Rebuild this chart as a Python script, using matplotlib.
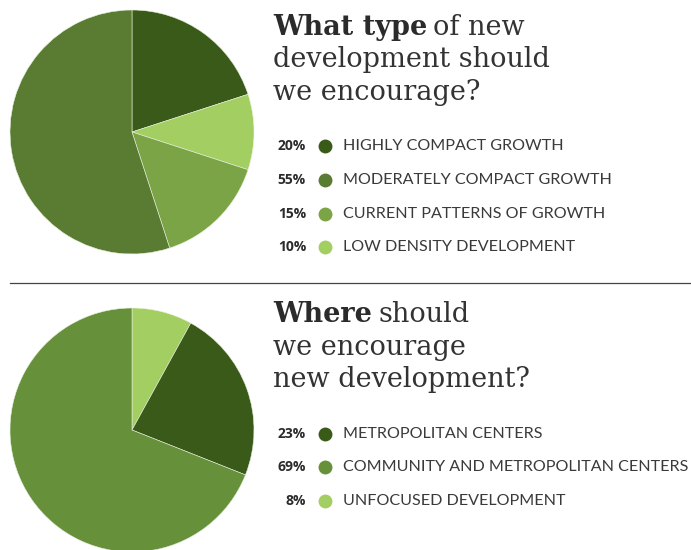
"""Two survey pies: type and location of new development."""
import matplotlib
matplotlib.use("Agg")
import matplotlib.pyplot as plt
from matplotlib.lines import Line2D

W, H = 691, 550

# ---- data ----
type_labels = ["HIGHLY COMPACT GROWTH", "MODERATELY COMPACT GROWTH",
               "CURRENT PATTERNS OF GROWTH", "LOW DENSITY DEVELOPMENT"]
type_values = [20, 55, 15, 10]
type_colors = ["#3a5a1a", "#5a7b32", "#7ba446", "#a2ce62"]
type_pie_order = [0, 3, 2, 1]  # clockwise from 12 o'clock

where_labels = ["METROPOLITAN CENTERS", "COMMUNITY AND METROPOLITAN CENTERS",
                "UNFOCUSED DEVELOPMENT"]
where_values = [23, 69, 8]
where_colors = ["#3a5a1a", "#67903a", "#a2ce62"]
where_pie_order = [2, 0, 1]

TITLE_FONT = "DejaVu Serif"
LABEL_FONT = "Lato"
PCT_FONT = "Open Sans"
INK = "#2b2b2b"


def fx(x):
    return x / W


def fy(y):
    return 1 - y / H


fig = plt.figure(figsize=(W / 100, H / 100), dpi=100)
fig.patch.set_facecolor("white")


def draw_pie(cx, cy, r, values, colors, order):
    ax = fig.add_axes([fx(cx - r), fy(cy + r), 2 * r / W, 2 * r / H])
    ax.pie([values[i] for i in order], colors=[colors[i] for i in order],
           startangle=90, counterclock=False,
           wedgeprops=dict(linewidth=0.4, edgecolor="#e8f0dc"))
    ax.set_xlim(-1, 1)
    ax.set_ylim(-1, 1)
    ax.set_aspect("equal")


def draw_title(x, baselines, lines, size=19.5):
    renderer = fig.canvas.get_renderer()
    for (bold, rest), yb in zip(lines, baselines):
        xx = fx(x)
        if bold:
            t = fig.text(xx, fy(yb), bold, fontsize=size, fontweight="bold",
                         family=TITLE_FONT, color=INK, va="baseline")
            bb = t.get_window_extent(renderer)
            xx = bb.x1 / W + 0.009
        if rest:
            fig.text(xx, fy(yb), rest, fontsize=size, family=TITLE_FONT,
                     color="#333333", va="baseline")


def draw_legend(rows, labels, values, colors):
    for yc, lab, v, c in zip(rows, labels, values, colors):
        fig.text(fx(306), fy(yc), f"{v}%", fontsize=10, fontweight="bold",
                 family=PCT_FONT, color=INK, ha="right", va="center")
        fig.add_artist(Line2D([fx(325)], [fy(yc)], marker="o", markersize=10,
                              color=c, markeredgewidth=0,
                              transform=fig.transFigure))
        fig.text(fx(343), fy(yc), lab, fontsize=11.6, family=LABEL_FONT,
                 color="#3a3a3a", va="center")


draw_pie(132, 132, 122, type_values, type_colors, type_pie_order)
draw_pie(132, 430, 122, where_values, where_colors, where_pie_order)

draw_title(273, [35, 67, 100],
           [("What type", "of new"), (None, "development should"),
            (None, "we encourage?")])
draw_title(273, [322, 355, 387],
           [("Where", "should"), (None, "we encourage"),
            (None, "new development?")])

draw_legend([146, 180, 214, 247], type_labels, type_values, type_colors)
draw_legend([434, 467, 501], where_labels, where_values, where_colors)

fig.add_artist(Line2D([fx(10), fx(690)], [fy(283), fy(283)], color="#444444",
                      linewidth=0.9, transform=fig.transFigure))

fig.savefig("out.png", dpi=100, facecolor="white")
